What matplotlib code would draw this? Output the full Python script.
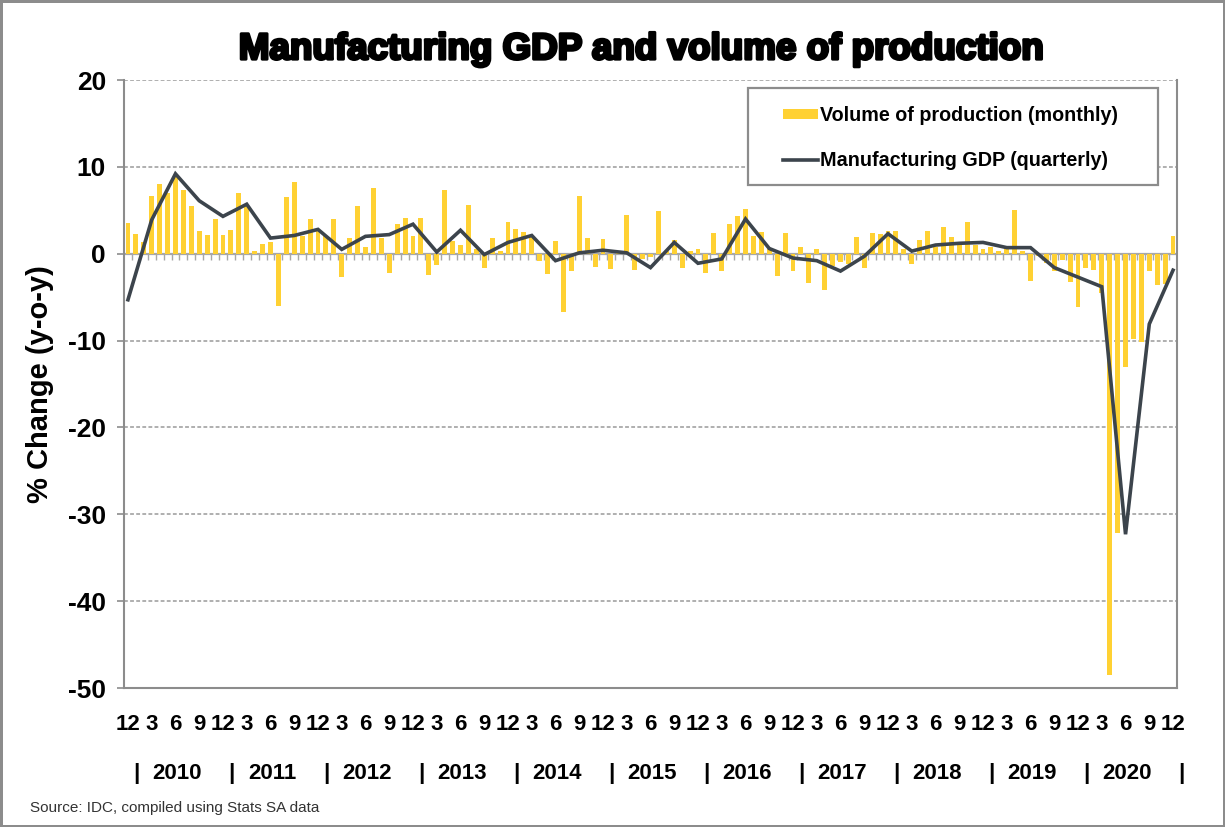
import matplotlib
matplotlib.use("Agg")
import matplotlib.pyplot as plt
import matplotlib.patheffects as pe
import matplotlib.transforms as mtransforms
from matplotlib.patches import Rectangle
import numpy as np

# Monthly y-o-y change in manufacturing volume of production, Dec 2009 .. Dec 2020
production_monthly = [
    3.5, 2.3, 1.4, 6.7, 8.0, 7.0, 9.0, 7.3, 5.5, 2.6, 2.1, 4.0,      # Dec09 - Nov10
    2.2, 2.7, 7.0, 5.5, 0.3, 1.1, 1.4, -6.0, 6.5, 8.3, 2.0, 4.0,     # Dec10 - Nov11
    2.7, 2.0, 4.0, -2.7, 1.8, 5.5, 0.8, 7.6, 1.8, -2.2, 3.4, 4.1,    # Dec11 - Nov12
    2.0, 4.1, -2.4, -1.3, 7.3, 1.5, 1.0, 5.6, 0.5, -1.7, 1.8, 0.3,   # Dec12 - Nov13
    3.6, 2.9, 2.5, 2.0, -0.8, -2.3, 1.5, -6.7, -2.0, 6.7, 1.8, -1.5, # Dec13 - Nov14
    1.7, -1.8, 0.2, 4.5, -1.9, -0.6, -0.4, 4.9, 0.3, 1.6, -1.7, 0.3, # Dec14 - Nov15
    0.5, -2.2, 2.4, -2.0, 3.4, 4.3, 5.2, 2.0, 2.5, 0.5, -2.6, 2.4,   # Dec15 - Nov16
    -2.0, 0.8, -3.4, 0.5, -4.2, -1.4, -1.0, -1.2, 1.9, -1.7, 2.4, 2.3, # Dec16 - Nov17
    2.6, 2.6, 0.5, -1.2, 1.6, 2.6, 0.8, 3.1, 1.9, 1.0, 3.6, 1.0,     # Dec17 - Nov18
    0.5, 0.8, 0.3, 0.5, 5.0, 0.3, -3.1, -0.3, -1.1, -2.0, -0.7, -3.3, # Dec18 - Nov19
    -6.1, -1.6, -1.9, -4.5, -48.5, -32.1, -13.1, -9.8, -10.2, -2.0, -3.6, -3.5, # Dec19 - Nov20
    2.0,                                                              # Dec20
]

# Quarterly y-o-y change in manufacturing GDP, Q4 2009 .. Q4 2020
gdp_quarterly = [
    -5.3,
    3.9, 9.2, 6.1, 4.3,
    5.7, 1.8, 2.1, 2.8,
    0.5, 2.0, 2.2, 3.4,
    0.2, 2.7, -0.1, 1.3,
    2.1, -0.8, 0.1, 0.4,
    0.1, -1.6, 1.3, -1.1,
    -0.6, 4.0, 0.6, -0.5,
    -0.8, -2.0, -0.3, 2.3,
    0.3, 1.0, 1.2, 1.3,
    0.7, 0.7, -1.6, -2.7,
    -3.8, -32.3, -8.1, -1.9,
]

month_labels = ["12", "3", "6", "9"]
years = list(range(2010, 2021))
y_ticks = [20, 10, 0, -10, -20, -30, -40, -50]

BAR_COLOR = "#FFD133"
LINE_COLOR = "#3C444C"
GRID_COLOR = "#9A9A9A"
EDGE_COLOR = "#8C8C8C"
FONT = "Liberation Sans"

plt.rcParams["font.family"] = [FONT, "DejaVu Sans"]
plt.rcParams["axes.unicode_minus"] = False

n_months = len(production_monthly)
months = np.arange(n_months)
quarter_pos = np.arange(0, n_months, 3)

fig = plt.figure(figsize=(12.25, 8.27), dpi=100, edgecolor=EDGE_COLOR, linewidth=2.5)
ax = fig.add_axes([124 / 1225, 1 - 688 / 827, (1177 - 124) / 1225, (688 - 80) / 827])

bars = ax.bar(months, production_monthly, width=0.62, color=BAR_COLOR, zorder=2)
line, = ax.plot(quarter_pos, gdp_quarterly, color=LINE_COLOR, lw=2.6, zorder=3,
                solid_joinstyle="miter")

ax.set_xlim(-0.5, n_months - 0.5)
ax.set_ylim(-50, 20)

# grid lines and zero line
for yv in y_ticks:
    if yv not in (0, -50):
        ax.axhline(yv, color=GRID_COLOR, lw=1.1, ls=(0, (2.5, 1.5)), zorder=1)
ax.axhline(0, color="#A8A8A8", lw=1.6, zorder=1)

# small month ticks hanging from the zero line
zero_axis = ax.secondary_xaxis(50 / 70)
zero_axis.set_xticks(np.arange(0.5, n_months - 1, 1.0))
zero_axis.tick_params(axis="x", direction="out", length=4, width=1.0,
                      color="#A8A8A8", labelbottom=False, labeltop=False,
                      bottom=True, top=False)
zero_axis.spines["bottom"].set_visible(False)
zero_axis.spines["top"].set_visible(False)

for side in ("left", "bottom", "right"):
    ax.spines[side].set_color(EDGE_COLOR)
    ax.spines[side].set_linewidth(1.5)
ax.spines["top"].set_visible(False)

ax.set_yticks(y_ticks)
ax.set_yticklabels([str(v) for v in y_ticks], fontsize=19, fontweight="bold")
ax.tick_params(axis="y", length=5, width=1.2, color=EDGE_COLOR, pad=8)

ax.set_xticks(quarter_pos)
ax.set_xticklabels([month_labels[i % 4] for i in range(len(quarter_pos))],
                   fontsize=16, fontweight="bold")
ax.tick_params(axis="x", length=0, pad=19)

# year row beneath the month labels
trans = mtransforms.blended_transform_factory(ax.transData, ax.transAxes)
for k, yr in enumerate(years):
    ax.text(1 + 12 * k, -0.14, "|", transform=trans, ha="center", va="center",
            fontsize=16, fontweight="bold")
    ax.text(6.2 + 12 * k, -0.14, str(yr), transform=trans, ha="center", va="center",
            fontsize=16, fontweight="bold")
ax.text(1 + 12 * len(years), -0.14, "|", transform=trans, ha="center", va="center",
        fontsize=16, fontweight="bold", clip_on=False)

ax.set_ylabel("% Change (y-o-y)", fontsize=21, fontweight="bold", labelpad=10)

# legend box and entries
ax.add_patch(Rectangle((0.5926, 0.8273), 0.982 - 0.5926, 0.9868 - 0.8273,
                       transform=ax.transAxes, facecolor="white", edgecolor=EDGE_COLOR,
                       lw=1.6, zorder=4))
leg = ax.legend([bars, line],
                ["Volume of production (monthly)", "Manufacturing GDP (quarterly)"],
                loc="upper left", bbox_to_anchor=(0.6258, 0.957),
                prop={"weight": "bold", "size": 14.2}, frameon=False,
                handlelength=1.8, handleheight=0.45, handletextpad=0.1,
                labelspacing=1.3, borderpad=0, borderaxespad=0)
leg.set_zorder(5)

fig.text(0.523, 0.940, "Manufacturing GDP and volume of production", ha="center",
         va="center", fontsize=26.5, fontweight="bold",
         path_effects=[pe.withStroke(linewidth=2.2, foreground="black")])

fig.text(30 / 1225, 1 - 808 / 827, "Source: IDC, compiled using Stats SA data",
         fontsize=11, color="#333333", va="center", ha="left")

fig.savefig("out.png", dpi=100, edgecolor=fig.get_edgecolor())
